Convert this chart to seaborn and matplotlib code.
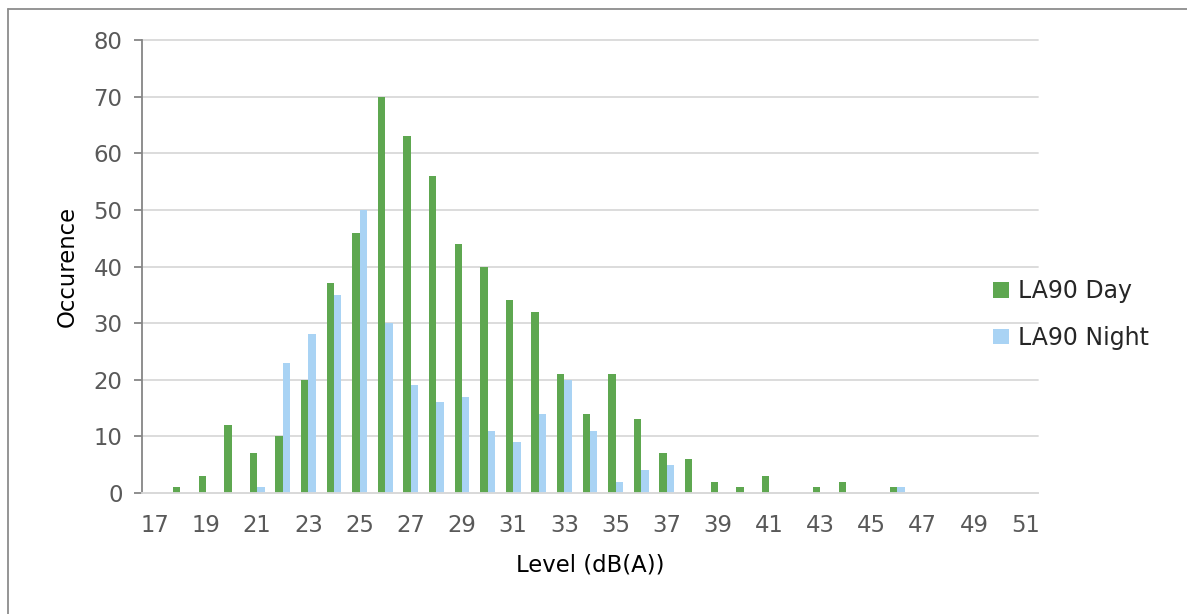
import matplotlib
matplotlib.use("Agg")
import matplotlib.pyplot as plt
from matplotlib.lines import Line2D
from matplotlib.patches import Patch
import seaborn as sns
import pandas as pd

levels = list(range(17, 52))
day = [0, 1, 3, 12, 7, 10, 20, 37, 46, 70, 63, 56, 44, 40, 34, 32, 21, 14, 21, 13,
       7, 6, 2, 1, 3, 0, 1, 2, 0, 1, 0, 0, 0, 0, 0]
night = [0, 0, 0, 0, 1, 23, 28, 35, 50, 30, 19, 16, 17, 11, 9, 14, 20, 11, 2, 4,
         5, 0, 0, 0, 0, 0, 0, 0, 0, 1, 0, 0, 0, 0, 0]
series_names = ["LA90 Day", "LA90 Night"]
yticks = [0, 10, 20, 30, 40, 50, 60, 70, 80]

green = "#5ea750"
blue = "#a9d3f4"

df = pd.DataFrame({
    "Level": [str(l) for l in levels] * 2,
    "Occurence": day + night,
    "Series": [series_names[0]] * len(levels) + [series_names[1]] * len(levels),
})

sns.set_style("white")
plt.rcParams["font.family"] = ["DejaVu Sans"]

fig = plt.figure(figsize=(11.87, 6.14), dpi=100)
ax = fig.add_axes([142 / 1187, 1 - 493 / 614, (1038 - 142) / 1187, (493 - 40) / 614])

sns.barplot(data=df, x="Level", y="Occurence", hue="Series",
            order=[str(l) for l in levels], hue_order=series_names,
            palette=[green, blue], width=0.58, gap=0, ax=ax, legend=False,
            saturation=1, edgecolor="none", linewidth=0)

ax.set_xlim(-0.5, len(levels) - 0.5)
ax.set_ylim(0, 80)
ax.set_yticks(yticks)
ax.set_yticklabels([str(t) for t in yticks])
pos = list(range(0, len(levels), 2))
ax.set_xticks(pos)
ax.set_xticklabels([str(levels[p]) for p in pos])

ax.grid(axis="y", color="#d9d9d9", linewidth=1.3)
for gl in ax.yaxis.get_gridlines():
    gl.set_clip_on(False)
ax.set_axisbelow(True)
for s in ["top", "right"]:
    ax.spines[s].set_visible(False)
ax.spines["left"].set_color("#868686")
ax.spines["left"].set_linewidth(1.3)
ax.spines["bottom"].set_color("#d9d9d9")
ax.spines["bottom"].set_linewidth(1.3)

ax.tick_params(axis="y", length=6, width=1.3, color="#868686", labelsize=16.4,
               labelcolor="#595959", pad=8, left=True)
ax.tick_params(axis="x", length=0, labelsize=16.4, labelcolor="#595959", pad=15)

ax.set_xlabel("Level (dB(A))", fontsize=16.4, color="#000000", labelpad=12)
ax.set_ylabel("Occurence", fontsize=16.4, color="#000000", labelpad=11)

handles = [Patch(facecolor=green, edgecolor="none"), Patch(facecolor=blue, edgecolor="none")]
ax.legend(handles, series_names, loc="center left", bbox_to_anchor=(0.819, 0.488),
          bbox_transform=fig.transFigure, frameon=False, fontsize=17,
          handlelength=0.65, handleheight=0.65, handletextpad=0.4, labelspacing=0.97)

# outer frame
fig.add_artist(Line2D([8 / 1187, 8 / 1187], [0, 1 - 9 / 614], transform=fig.transFigure,
                      color="#8c8c8c", linewidth=1.3))
fig.add_artist(Line2D([8 / 1187, 1], [1 - 9 / 614, 1 - 9 / 614], transform=fig.transFigure,
                      color="#8c8c8c", linewidth=1.3))

fig.savefig("out.png", dpi=100)
